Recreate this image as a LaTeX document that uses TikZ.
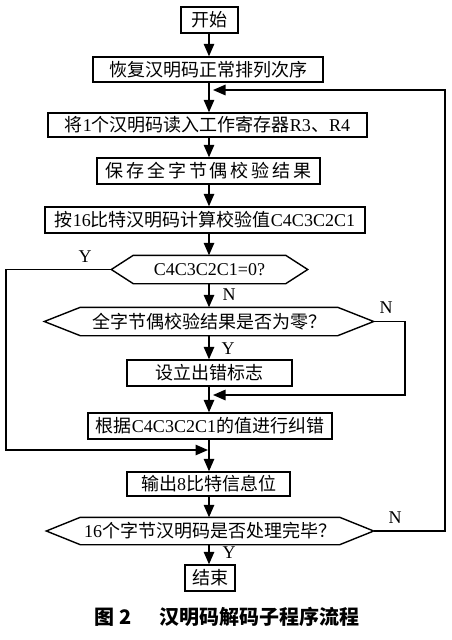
\documentclass[tikz,border=0pt]{standalone}
\usepackage{fontspec}
\setmainfont{Liberation Serif}
\newfontfamily\cjk{Noto Sans CJK SC}
\newcommand\zh[1]{{\cjk #1}}
\usetikzlibrary{arrows.meta,calc}
\begin{document}
\begin{tikzpicture}[x=1pt,y=-1pt,
  line width=1.4pt,
  every node/.style={font=\fontsize{18}{20}\selectfont, inner sep=0pt},
  procbox/.style={draw, line width=1.4pt, anchor=center},
  decbox/.style={draw=none, anchor=center},
  lbl/.style={font=\fontsize{18}{20}\selectfont},
  arr/.style={-{Triangle[length=12.5pt,width=10.5pt]}},
]
\useasboundingbox (0,0) rectangle (452,640);
\coordinate (axis) at (209,0);

\node[procbox, minimum width=57pt, minimum height=26pt] (start) at (209.5,20) {\zh{开始}};
\node[procbox, minimum width=230pt, minimum height=25pt] (restore) at (208,69.5) {\zh{恢复汉明码正常排列次序}};
\node[procbox, minimum width=319pt, minimum height=24pt] (read) at (207.5,125) {\zh{将}1\zh{个汉明码读入工作寄存器}R3\zh{、}R4};
\node[procbox, minimum width=223pt, minimum height=26pt] (save) at (208.5,171) {\cjk\addfontfeature{LetterSpace=16}保存全字节偶校验结果};
\node[procbox, minimum width=320pt, minimum height=26pt] (calc) at (205,220) {\zh{按}16\zh{比特汉明码计算校验值}C4C3C2C1};
\node[decbox, minimum width=195pt, minimum height=27pt] (dec1) at (209.5,269.5) {C4C3C2C1=0?};
\node[decbox, minimum width=328pt, minimum height=27pt] (dec2) at (209,321.5) {\zh{全字节偶校验结果是否为零？}};
\node[procbox, minimum width=165pt, minimum height=26pt] (flag) at (209.5,373) {\zh{设立出错标志}};
\node[procbox, minimum width=244pt, minimum height=26pt] (correct) at (210,426) {\zh{根据}C4C3C2C1\zh{的值进行纠错}};
\node[procbox, minimum width=163pt, minimum height=24pt] (output) at (208.5,484) {\zh{输出}8\zh{比特信息位}};
\node[decbox, minimum width=326pt, minimum height=26pt] (dec3) at (210,531) {16\zh{个字节汉明码是否处理完毕？}};
\node[procbox, minimum width=50pt, minimum height=26pt] (end) at (210,578) {\zh{结束}};

% hexagons
\draw (dec1.west) -- ([xshift=22pt]dec1.north west) -- ([xshift=-22pt]dec1.north east) -- (dec1.east) -- ([xshift=-22pt]dec1.south east) -- ([xshift=22pt]dec1.south west) -- cycle;
\draw (dec2.west) -- ([xshift=36pt]dec2.north west) -- ([xshift=-36pt]dec2.north east) -- (dec2.east) -- ([xshift=-36pt]dec2.south east) -- ([xshift=36pt]dec2.south west) -- cycle;
\draw (dec3.west) -- ([xshift=34pt]dec3.north west) -- ([xshift=-34pt]dec3.north east) -- (dec3.east) -- ([xshift=-34pt]dec3.south east) -- ([xshift=34pt]dec3.south west) -- cycle;

% main axis
\draw[arr] (start.south -| axis) -- (restore.north -| axis);
\draw[arr] (restore.south -| axis) -- (read.north -| axis);
\draw[arr] (read.south -| axis) -- (save.north -| axis);
\draw[arr] (save.south -| axis) -- (calc.north -| axis);
\draw[arr] (calc.south -| axis) -- (dec1.north -| axis);
\draw[arr] (dec1.south -| axis) -- (dec2.north -| axis);
\draw[arr] (dec2.south -| axis) -- (flag.north -| axis);
\draw[arr] (flag.south -| axis) -- (correct.north -| axis);
\draw[arr] (correct.south -| axis) -- (output.north -| axis);
\draw[arr] (output.south -| axis) -- (dec3.north -| axis);
\draw[arr] (dec3.south -| axis) -- (end.north -| axis);

% side branches
\coordinate (loopR) at (445,531);
\coordinate (loopT) at (445,90);
\coordinate (loopJ) at (213,90);
\draw[arr] (dec3.east) -- (loopR) -- (loopT) -- (loopJ);

\coordinate (yL1) at (6,269.5);
\coordinate (yL2) at (6,450);
\coordinate (yJ) at (208,450);
\draw[arr] (dec1.west) -- (yL1) -- (yL2) -- (yJ);

\coordinate (nR1) at (405,321.5);
\coordinate (nR2) at (405,395);
\coordinate (nJ) at (213,395);
\draw[arr] (dec2.east) -- (nR1) -- (nR2) -- (nJ);

% labels
\node[lbl] (lY1) at (85,257) {Y};
\node[lbl] (lN1) at (229,295) {N};
\node[lbl] (lN2) at (386,308) {N};
\node[lbl] (lY2) at (228,349) {Y};
\node[lbl] (lN3) at (395,518) {N};
\node[lbl] (lY3) at (229,553) {Y};

% caption
\node[font=\fontsize{20}{22}\selectfont\cjk\bfseries] (cap) at (227,617) {图 2\hspace{1.4em}汉明码解码子程序流程};
\end{tikzpicture}
\end{document}
